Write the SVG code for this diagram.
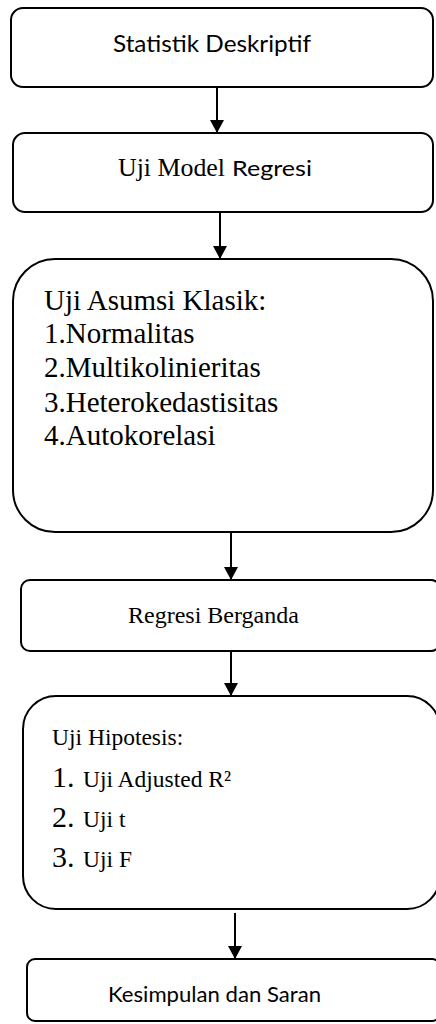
<svg xmlns="http://www.w3.org/2000/svg" width="436" height="1024" viewBox="0 0 436 1024">
<style>
.box{fill:#fff;stroke:#000;stroke-width:2}
.con{stroke:#000;stroke-width:2;fill:none}
.serif{font-family:"Liberation Serif","Times New Roman",serif;fill:#000}
.sans{font-family:Lato,"Liberation Sans",sans-serif;fill:#000}
</style>
<defs>
<marker id="ah" markerUnits="userSpaceOnUse" markerWidth="14" markerHeight="14" viewBox="0 0 14 14" refX="13" refY="7" orient="auto">
<path d="M0,0 L13,7 L0,14 Z" fill="#000"/>
</marker>
</defs>
<g id="connectors">
<line class="con" x1="217" y1="87" x2="217" y2="133" marker-end="url(#ah)"/>
<line class="con" x1="220" y1="212" x2="220" y2="259" marker-end="url(#ah)"/>
<line class="con" x1="231" y1="532" x2="231" y2="580" marker-end="url(#ah)"/>
<line class="con" x1="231" y1="651" x2="231" y2="696" marker-end="url(#ah)"/>
<line class="con" x1="235" y1="913" x2="235" y2="959" marker-end="url(#ah)"/>
</g>
<g id="n1">
<rect class="box" x="11" y="8" width="422" height="79" rx="12"/>
<text class="sans" x="113" y="52" font-size="23" textLength="198" lengthAdjust="spacingAndGlyphs">Statistik Deskriptif</text>
</g>
<g id="n2">
<rect class="box" x="13" y="133" width="420" height="79" rx="12"/>
<text class="serif" x="118" y="176" font-size="25" textLength="107" lengthAdjust="spacingAndGlyphs">Uji Model</text>
<text class="sans" x="232" y="176" font-size="22" textLength="80" lengthAdjust="spacingAndGlyphs">Regresi</text>
</g>
<g id="n3">
<rect class="box" x="13" y="259" width="420" height="273" rx="42"/>
<text class="serif" font-size="29">
<tspan x="44" y="310">Uji Asumsi Klasik:</tspan>
<tspan x="44" y="343">1.Normalitas</tspan>
<tspan x="44" y="377">2.Multikolinieritas</tspan>
<tspan x="44" y="412">3.Heterokedastisitas</tspan>
<tspan x="44" y="445">4.Autokorelasi</tspan>
</text>
</g>
<g id="n4">
<rect class="box" x="21" y="580" width="419" height="71" rx="9"/>
<text class="serif" x="128" y="623" font-size="24">Regresi Berganda</text>
</g>
<g id="n5">
<rect class="box" x="23" y="696" width="417" height="213" rx="33"/>
<text class="serif" x="52" y="745" font-size="23.5">Uji Hipotesis:</text>
<text class="serif" x="52" y="787" font-size="30">1.</text>
<text class="serif" x="83" y="787" font-size="23.5">Uji Adjusted R²</text>
<text class="serif" x="52" y="827" font-size="30">2.</text>
<text class="serif" x="83" y="827" font-size="23.5">Uji t</text>
<text class="serif" x="52" y="867" font-size="30">3.</text>
<text class="serif" x="83" y="867" font-size="23.5">Uji F</text>
</g>
<g id="n6">
<rect class="box" x="27" y="959" width="413" height="62" rx="8"/>
<text class="sans" x="108" y="1002" font-size="22" textLength="213" lengthAdjust="spacingAndGlyphs">Kesimpulan dan Saran</text>
</g>
</svg>
